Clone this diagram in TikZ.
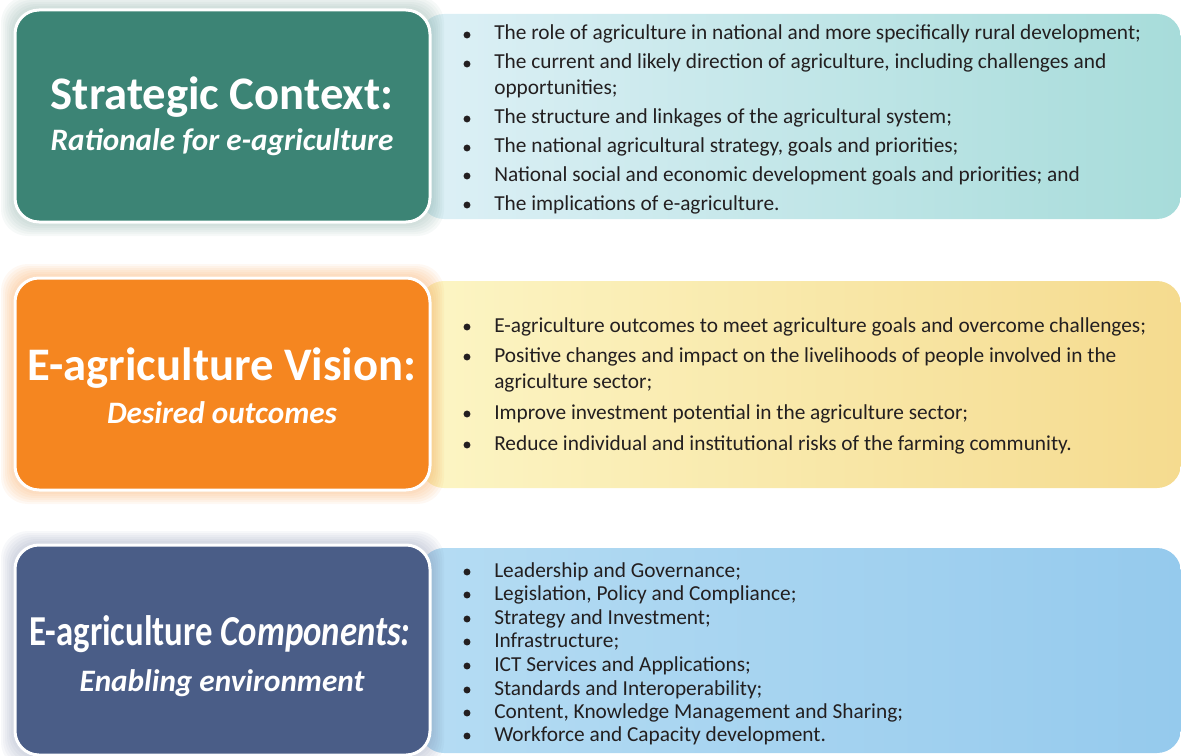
\documentclass[tikz,border=0pt]{standalone}
\usepackage{fontspec}
\setmainfont{Carlito}

\definecolor{boxteal}{HTML}{3C8475}
\definecolor{boxorange}{HTML}{F58620}
\definecolor{boxblue}{HTML}{4A5D87}
\definecolor{glowteal}{HTML}{6E9A90}
\definecolor{gloworange}{HTML}{F7A050}
\definecolor{glowblue}{HTML}{7A86A8}
\definecolor{textgray}{HTML}{231F20}

\tikzset{
  keybox/.style={draw=white, line width=2.25pt, rounded corners=18pt,
    minimum width=311.25pt, minimum height=159pt, inner sep=0pt},
  band/.style={rounded corners=18pt},
  headtext/.style={text=white, inner sep=0pt, font=\fontsize{35}{40}\selectfont\bfseries},
  subtext/.style={text=white, inner sep=0pt, font=\fontsize{23.4}{27}\selectfont\bfseries\itshape},
  itemtext/.style={text=textgray, anchor=base west, inner sep=0pt, font=\fontsize{16}{19}\selectfont},
  bullet/.style={circle, fill=textgray, inner sep=0pt, minimum size=5.2pt},
}

\begin{document}
\begin{tikzpicture}[x=0.75pt, y=-0.75pt]
  \useasboundingbox (0,0) rectangle (1181,756);

  % coloured bands on the right
  \shade[band, left color={rgb,255:red,221;green,240;blue,246}, right color={rgb,255:red,167;green,220;blue,218}] (420,14) rectangle (1181,219);
  \shade[band, left color={rgb,255:red,252;green,245;blue,196}, right color={rgb,255:red,245;green,219;blue,143}] (420,281) rectangle (1181,488);
  \shade[band, left color={rgb,255:red,181;green,220;blue,243}, right color={rgb,255:red,149;green,202;blue,237}] (420,548) rectangle (1181,753);

  % soft glow round the boxes
  \foreach \g in {1,...,7} {
    \fill[glowteal, opacity=0.06, rounded corners=20pt] ({15-2*\g},{10-2*\g}) rectangle ({430+2*\g},{222+2*\g});
    \fill[gloworange, opacity=0.07, rounded corners=20pt] ({15-2*\g},{278-2*\g}) rectangle ({430+2*\g},{490+2*\g});
    \fill[glowblue, opacity=0.06, rounded corners=20pt] ({15-2*\g},{545-2*\g}) rectangle ({430+2*\g},{755+2*\g});
  }

  % left boxes
  \node[keybox, fill=boxteal] (context) at (222.5,116) {};
  \node[keybox, fill=boxorange] (vision) at (222.5,384) {};
  \node[keybox, fill=boxblue, minimum height=157.5pt] (components) at (222.5,650) {};

  \node[headtext] (contexthead) at (222,97) {Strategic Context:};
  \node[subtext] (contextsub) at (222,142) {Rationale for e-agriculture};
  \node[headtext] (visionhead) at (222,368) {E-agriculture Vision:};
  \node[subtext] (visionsub) at (222,413) {Desired outcomes};
  \node[headtext, font=\fontsize{32}{36}\selectfont\bfseries, xscale=0.815] (comphead) at (220,634) {E-agriculture \textit{Components:}};
  \node[subtext] (compsub) at (222,683) {Enabling environment};

  % bullet points
  \foreach \y in {35,64,119,148,176,205, 327,357,414,445, 572,595,619,642,666,690,713,736}
    \node[bullet] at (467,\y) {};

  % item lines
  \foreach \y/\t in {
      40/{The role of agriculture in national and more specifically rural development;},
      69/{The current and likely direction of agriculture, including challenges and},
      95/{opportunities;},
      124/{The structure and linkages of the agricultural system;},
      153/{The national agricultural strategy, goals and priorities;},
      181/{National social and economic development goals and priorities; and},
      210/{The implications of e-agriculture.},
      332/{E-agriculture outcomes to meet agriculture goals and overcome challenges;},
      362/{Positive changes and impact on the livelihoods of people involved in the},
      388/{agriculture sector;},
      419/{Improve investment potential in the agriculture sector;},
      450/{Reduce individual and institutional risks of the farming community.},
      577/{Leadership and Governance;},
      600/{Legislation, Policy and Compliance;},
      624/{Strategy and Investment;},
      647/{Infrastructure;},
      671/{ICT Services and Applications;},
      695/{Standards and Interoperability;},
      718/{Content, Knowledge Management and Sharing;},
      741/{Workforce and Capacity development.}}
    \node[itemtext] at (494,\y) {\t};
\end{tikzpicture}
\end{document}
